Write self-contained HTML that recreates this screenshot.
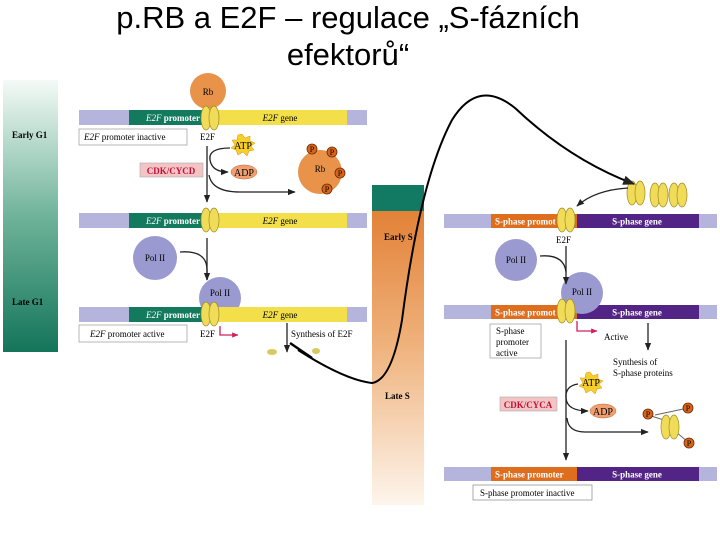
<!DOCTYPE html>
<html><head><meta charset="utf-8"><style>
body{margin:0;width:720px;height:540px;background:#fff;overflow:hidden}
svg{position:absolute;left:0;top:0}
.t{font-family:"Liberation Serif",serif;font-size:9px}
.h{font-family:"Liberation Sans",sans-serif;font-size:31px}
</style></head><body>
<svg width="720" height="540" viewBox="0 0 720 540">
<defs>
<linearGradient id="g1" x1="0" y1="0" x2="0" y2="1"><stop offset="0" stop-color="#f4faf7"/><stop offset="0.5" stop-color="#6fb39a"/><stop offset="1" stop-color="#14755a"/></linearGradient>
<linearGradient id="g2" x1="0" y1="0" x2="0" y2="1"><stop offset="0" stop-color="#e0782a"/><stop offset="0.5" stop-color="#efb27c"/><stop offset="1" stop-color="#fdf5ec"/></linearGradient>
<marker id="a" viewBox="0 0 10 10" refX="9" refY="5" markerWidth="6" markerHeight="6" orient="auto"><path d="M0,1 L10,5 L0,9z" fill="#222"/></marker>
<marker id="r" viewBox="0 0 10 10" refX="9" refY="5" markerWidth="5" markerHeight="5" orient="auto"><path d="M0,1 L10,5 L0,9z" fill="#d0205a"/></marker>
<g id="e2f"><ellipse cx="-4" cy="0" rx="5" ry="12" fill="#f0dc58" stroke="#a08a20" stroke-width="0.7"/><ellipse cx="4" cy="0" rx="5" ry="12" fill="#f0dc58" stroke="#a08a20" stroke-width="0.7"/></g>
<g id="P"><circle r="5" fill="#d8641a" stroke="#6a2a00" stroke-width="0.8"/><text x="0" y="3" text-anchor="middle" class="t" style="font-size:8px">P</text></g>
<g id="dl">
<rect x="79" y="0" width="288" height="15" fill="#b4b4dc"/>
<rect x="129" y="0" width="88" height="15" fill="#137a5e"/>
<rect x="217" y="0" width="130" height="15" fill="#f2df4a"/>
<text x="173" y="11" text-anchor="middle" class="t" fill="#fff"><tspan font-style="italic">E2F</tspan> <tspan font-weight="bold">promoter</tspan></text>
<text x="280" y="11" text-anchor="middle" class="t"><tspan font-style="italic">E2F</tspan> gene</text>
</g>
<g id="dr">
<rect x="444" y="0" width="273" height="14" fill="#b4b4dc"/>
<rect x="491" y="0" width="86" height="14" fill="#de6e1e"/>
<rect x="577" y="0" width="122" height="14" fill="#522486"/>
<text x="637" y="10.5" text-anchor="middle" class="t" fill="#fff" font-weight="bold">S-phase gene</text>
</g>
</defs>
<text x="348" y="28" text-anchor="middle" class="h">p.RB a E2F – regulace „S-fázních</text>
<text x="348" y="65" text-anchor="middle" class="h">efektorů“</text>

<rect x="3" y="80" width="55" height="272" fill="url(#g1)"/>
<text x="12" y="138" class="t" style="font-weight:bold">Early G1</text>
<text x="12" y="305" class="t" style="font-weight:bold">Late G1</text>

<circle cx="208" cy="91" r="18" fill="#e8924a"/><text x="208" y="95" text-anchor="middle" class="t">Rb</text>
<use href="#dl" y="110"/>
<use href="#dl" y="213"/>
<circle cx="220" cy="298" r="21" fill="#9a9ad0"/><text x="220" y="296" text-anchor="middle" class="t">Pol II</text>
<use href="#dl" y="307"/>
<use href="#e2f" x="210" y="118"/>
<use href="#e2f" x="210" y="220"/>
<use href="#e2f" x="210" y="314"/>
<rect x="79" y="129" width="108" height="16" fill="#fff" stroke="#999" stroke-width="0.7"/>
<text x="84" y="140" class="t"><tspan font-style="italic">E2F</tspan> promoter inactive</text>
<text x="200" y="140" class="t">E2F</text>
<line x1="207" y1="146" x2="207" y2="202" stroke="#222" stroke-width="1.3" marker-end="url(#a)"/>
<path d="M230,148 Q208,148 210,160 Q212,172 228,172" fill="none" stroke="#222" stroke-width="1.3" marker-end="url(#a)"/>
<path d="M209,175 Q212,192 240,192 L295,192" fill="none" stroke="#222" stroke-width="1.3" marker-end="url(#a)"/>
<polygon points="242,134 245,138 250,136 250,141 255,143 251,146 254,150 249,151 247,156 243,152 238,155 236,150 231,148 235,145 232,140 237,140 238,135" fill="#f7cf2a" stroke="#d09000" stroke-width="0.5"/>
<text x="243" y="149" text-anchor="middle" class="t" style="font-size:10px">ATP</text>
<ellipse cx="244" cy="172" rx="13" ry="7" fill="#f0a070" stroke="#c06030" stroke-width="0.5"/>
<text x="244" y="176" text-anchor="middle" class="t" style="font-size:10px">ADP</text>
<rect x="140" y="163" width="63" height="14" fill="#f2c4c4" stroke="#aaa" stroke-width="0.6"/>
<text x="171" y="174" text-anchor="middle" class="t" fill="#c0103a" style="font-weight:bold">CDK/CYCD</text>
<circle cx="320" cy="172" r="22" fill="#e8924a"/><text x="320" y="172" text-anchor="middle" class="t">Rb</text>
<use href="#P" x="312" y="149"/><use href="#P" x="332" y="152"/><use href="#P" x="340" y="173"/><use href="#P" x="327" y="189"/>
<circle cx="155" cy="258" r="22" fill="#9a9ad0"/><text x="155" y="261" text-anchor="middle" class="t">Pol II</text>
<path d="M180,252 Q207,250 207,270 L207,280" fill="none" stroke="#222" stroke-width="1.3" marker-end="url(#a)"/>
<line x1="207" y1="238" x2="207" y2="280" stroke="#222" stroke-width="1.3"/>
<rect x="79" y="325" width="108" height="17" fill="#fff" stroke="#999" stroke-width="0.7"/>
<text x="90" y="337" class="t"><tspan font-style="italic">E2F</tspan> promoter active</text>
<text x="200" y="337" class="t">E2F</text>
<path d="M220,326 L220,335 L238,335" fill="none" stroke="#d0205a" stroke-width="1.3" marker-end="url(#r)"/>
<line x1="287" y1="323" x2="287" y2="352" stroke="#222" stroke-width="1.3" marker-end="url(#a)"/>
<text x="291" y="337" class="t">Synthesis of E2F</text>
<ellipse cx="272" cy="352" rx="5" ry="3" fill="#d8c860"/><ellipse cx="316" cy="351" rx="4" ry="3" fill="#d8c860"/>

<rect x="372" y="185" width="52" height="320" fill="url(#g2)"/>
<rect x="372" y="185" width="52" height="26" fill="#127a62"/>
<text x="384" y="240" class="t" style="font-weight:bold">Early S</text>
<text x="385" y="399" class="t" style="font-weight:bold">Late S</text>

<use href="#dr" y="214"/><use href="#dr" y="305"/><use href="#dr" y="467"/>
<text x="495" y="224.5" class="t" fill="#fff" font-weight="bold">S-phase promot</text>
<text x="495" y="315.5" class="t" fill="#fff" font-weight="bold">S-phase promot</text>
<text x="495" y="477.5" class="t" fill="#fff" font-weight="bold">S-phase promoter</text>
<circle cx="582" cy="293" r="21" fill="#9a9ad0"/><text x="582" y="295" text-anchor="middle" class="t">Pol II</text>
<use href="#e2f" x="566" y="220"/>
<use href="#e2f" x="566" y="311"/>
<text x="556" y="243" class="t">E2F</text>
<use href="#e2f" x="636" y="193"/>
<use href="#e2f" x="659" y="195"/><use href="#e2f" x="678" y="195"/>
<path d="M628,188 Q595,190 577,206" fill="none" stroke="#222" stroke-width="1.3" marker-end="url(#a)"/>
<circle cx="516" cy="260" r="21" fill="#9a9ad0"/><text x="516" y="263" text-anchor="middle" class="t">Pol II</text>
<line x1="566" y1="246" x2="566" y2="284" stroke="#222" stroke-width="1.3" marker-end="url(#a)"/>
<path d="M540,256 Q564,254 566,272" fill="none" stroke="#222" stroke-width="1.3"/>
<rect x="490" y="324" width="51" height="34" fill="#fff" stroke="#999" stroke-width="0.7"/>
<text x="496" y="334" class="t">S-phase</text><text x="496" y="345" class="t">promoter</text><text x="496" y="356" class="t">active</text>
<path d="M577,321 L577,331 L597,331" fill="none" stroke="#d0205a" stroke-width="1.3" marker-end="url(#r)"/>
<text x="604" y="340" class="t">Active</text>
<line x1="648" y1="323" x2="648" y2="350" stroke="#222" stroke-width="1.3" marker-end="url(#a)"/>
<text x="613" y="365" class="t">Synthesis of</text><text x="613" y="376" class="t">S-phase proteins</text>
<line x1="566" y1="340" x2="566" y2="460" stroke="#222" stroke-width="1.3" marker-end="url(#a)"/>
<path d="M578,384 Q565,386 566,398 Q567,411 588,411" fill="none" stroke="#222" stroke-width="1.3" marker-end="url(#a)"/>
<path d="M567,418 Q568,432 585,432 L648,432" fill="none" stroke="#222" stroke-width="1.3" marker-end="url(#a)"/>
<polygon points="590,372 593,376 598,374 598,379 603,381 599,384 602,388 597,389 595,394 591,390 586,393 584,388 579,386 583,383 580,378 585,378 586,373" fill="#f7cf2a" stroke="#d09000" stroke-width="0.5"/>
<text x="591" y="386" text-anchor="middle" class="t" style="font-size:10px">ATP</text>
<ellipse cx="603" cy="411" rx="13" ry="7" fill="#f0a070" stroke="#c06030" stroke-width="0.5"/>
<text x="603" y="415" text-anchor="middle" class="t" style="font-size:10px">ADP</text>
<rect x="500" y="397" width="57" height="14" fill="#f2c4c4" stroke="#aaa" stroke-width="0.6"/>
<text x="528" y="408" text-anchor="middle" class="t" fill="#c0103a" font-weight="bold">CDK/CYCA</text>
<line x1="655" y1="415" x2="688" y2="408" stroke="#666"/><line x1="676" y1="432" x2="688" y2="442" stroke="#666"/><line x1="664" y1="420" x2="648" y2="415" stroke="#666"/>
<use href="#e2f" x="670" y="427"/>
<use href="#P" x="648" y="414"/><use href="#P" x="688" y="408"/><use href="#P" x="689" y="443"/>
<rect x="473" y="485" width="119" height="15" fill="#fff" stroke="#888" stroke-width="0.7"/>
<text x="480" y="496" class="t">S-phase promoter inactive</text>

<path d="M298,350 Q345,380 372,383 Q392,380 402,320 Q420,180 452,120 Q478,78 515,108 Q570,160 634,184" fill="none" stroke="#000" stroke-width="2" marker-end="url(#a)"/>
<line x1="290" y1="343" x2="312" y2="358" stroke="#000" stroke-width="2.5"/>
</svg>
</body></html>
